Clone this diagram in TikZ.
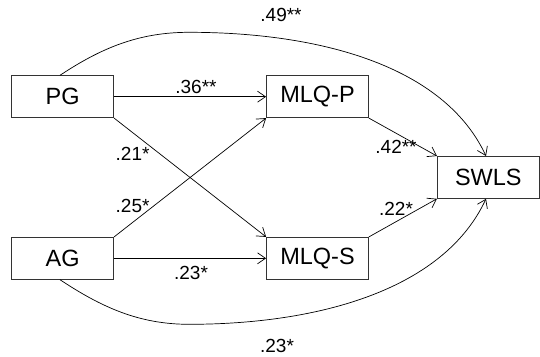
\documentclass[tikz,border=0pt]{standalone}
\usepackage{fontspec}
\setmainfont{Liberation Sans}
\usetikzlibrary{arrows.meta}
\tikzset{
  varbox/.style={draw=black!80, line width=0.8pt, minimum width=102pt, minimum height=42pt, inner sep=0pt, font=\fontsize{23.5}{26}\selectfont},
  coef/.style={inner sep=0pt, font=\fontsize{19}{22}\selectfont},
  path/.style={draw, line width=0.7pt, -{Straight Barb[length=8pt,width=11pt,line width=0.7pt]}},
}
\begin{document}
\begin{tikzpicture}[x=1pt,y=-1pt]
\useasboundingbox (0,0) rectangle (540,356);
% boxes
\node[varbox] (PG) at (62.7,96.7) {PG};
\node[varbox] (MLQP) at (317.5,96.7) {MLQ-P};
\node[varbox] (AG) at (62.7,258.3) {AG};
\node[varbox] (MLQS) at (317.5,258.3) {MLQ-S};
\node[varbox] (SWLS) at (488.3,177.4) {SWLS};
% waypoints of the curved paths
\coordinate (topmid) at (189,32.3);
\coordinate (botmid) at (189,324.3);
% straight paths
\draw[path] (PG.east) -- (MLQP.west);
\draw[path] (AG.east) -- (MLQS.west);
\draw[path] (PG.south east) -- (MLQS.north west);
\draw[path] (AG.north east) -- (MLQP.south west);
\draw[path] (MLQP.south east) -- (SWLS.north west);
\draw[path] (MLQS.north east) -- (SWLS.south west);
% curved paths
\draw[path] ([xshift=-2.7pt]PG.north) .. controls (101.5,47.8) and (139,32.3) .. (topmid)
  .. controls (319,32.3) and (443.7,65.4) .. ([xshift=-2.3pt]SWLS.north);
\draw[path] ([xshift=-2.7pt]AG.south) .. controls (101.5,307.2) and (139,324.3) .. (botmid)
  .. controls (319,324.3) and (443.7,289.6) .. ([xshift=-2.3pt]SWLS.south);
% coefficients
\node[coef] (c49) at (281,15) {.49**};
\node[coef] (c36) at (196,87.3) {.36**};
\node[coef] (c21) at (132.6,154) {.21*};
\node[coef] (c25) at (132.6,206) {.25*};
\node[coef] (c42) at (396,147.3) {.42**};
\node[coef] (c22) at (396,209.3) {.22*};
\node[coef] (c23a) at (191,272.7) {.23*};
\node[coef] (c23b) at (277,346) {.23*};
\end{tikzpicture}
\end{document}
